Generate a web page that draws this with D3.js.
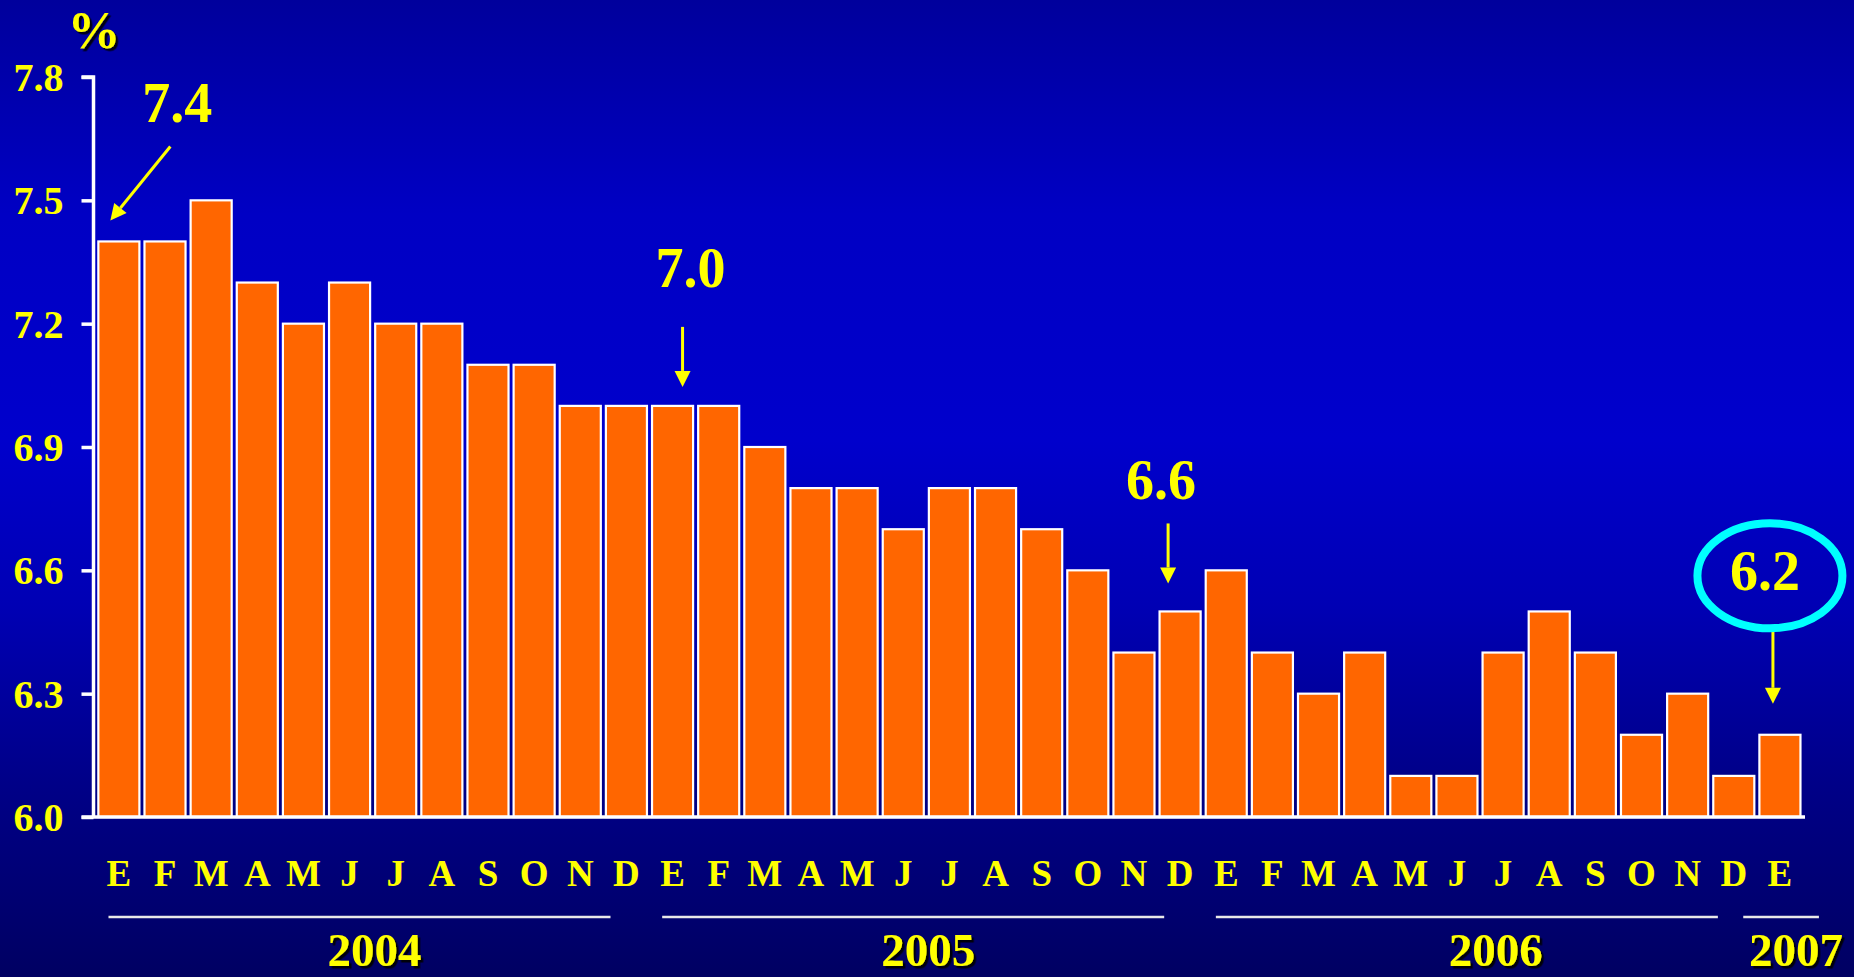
<!DOCTYPE html>
<html>
<head>
<meta charset="utf-8">
<script src="https://cdn.jsdelivr.net/npm/d3@7"></script>
<style>
  html, body { margin: 0; padding: 0; background: #00007a; overflow: hidden; }
  svg { display: block; }
  text { font-family: "Liberation Serif", "Times New Roman", serif; font-weight: bold; }
</style>
</head>
<body>
<svg id="chart" width="1854" height="977"></svg>
<script>
// ---- data ----
const months = ["E","F","M","A","M","J","J","A","S","O","N","D",
                "E","F","M","A","M","J","J","A","S","O","N","D",
                "E","F","M","A","M","J","J","A","S","O","N","D",
                "E"];
const values = [7.4, 7.4, 7.5, 7.3, 7.2, 7.3, 7.2, 7.2, 7.1, 7.1, 7.0, 7.0,
                7.0, 7.0, 6.9, 6.8, 6.8, 6.7, 6.8, 6.8, 6.7, 6.6, 6.4, 6.5,
                6.6, 6.4, 6.3, 6.4, 6.1, 6.1, 6.4, 6.5, 6.4, 6.2, 6.3, 6.1,
                6.2];
const yTicks = [6.0, 6.3, 6.6, 6.9, 7.2, 7.5, 7.8];
const yearLabels = ["2004", "2005", "2006", "2007"];
const yearFirst = [0, 12, 24, 36];
const yearLast = [11, 23, 35, 36];
const noteLabels = ["7.4", "7.0", "6.6", "6.2"];
const noteIndex = [0, 12, 23, 36];

// ---- layout ----
const W = 1854, H = 977;
const svg = d3.select("#chart");
const defs = svg.append("defs");
const grad = defs.append("linearGradient").attr("id", "bg")
  .attr("x1", 0).attr("y1", 0).attr("x2", 0).attr("y2", 1);
[[0, "#00009c"], [0.22, "#0000c4"], [0.45, "#0000cc"], [0.62, "#0000b4"], [0.8, "#000088"], [1, "#000062"]]
  .forEach(([o, c]) => grad.append("stop").attr("offset", o).attr("stop-color", c));
const shadow = defs.append("filter").attr("id", "shadow")
  .attr("x", "-20%").attr("y", "-20%").attr("width", "140%").attr("height", "140%");
shadow.append("feDropShadow").attr("dx", 2.5).attr("dy", 2.5).attr("stdDeviation", 0.6)
  .attr("flood-color", "#000000").attr("flood-opacity", 0.9);

svg.append("rect").attr("width", W).attr("height", H).attr("fill", "url(#bg)");

const axisX = 93.5;
const x = d3.scaleBand().domain(d3.range(values.length))
  .range([95.8, 1803]).paddingInner(0.11).paddingOuter(0.055);
const y = d3.scaleLinear().domain([6.0, 7.8]).range([817, 77]);
const step = x.step(), bw = x.bandwidth();

const YELLOW = "#ffff00";

// bars
svg.append("g").selectAll("rect").data(values).join("rect")
  .attr("x", (d, i) => x(i))
  .attr("y", d => y(d))
  .attr("width", bw)
  .attr("height", d => y(6.0) - y(d))
  .attr("fill", "#ff6600")
  .attr("stroke", "#ffffff")
  .attr("stroke-width", 2.2);

// y axis
const yAxis = d3.axisLeft(y).tickValues(yTicks).tickFormat(d3.format(".1f"))
  .tickSize(12).tickPadding(18);
const gy = svg.append("g").attr("transform", `translate(${axisX},0)`).call(yAxis);
gy.select(".domain").attr("stroke", "#ffffff").attr("stroke-width", 3.5)
  .attr("d", `M-12,${y(7.8)}H0V${y(6.0)}`);
gy.selectAll(".tick line").attr("stroke", "#ffffff").attr("stroke-width", 3.5);
gy.selectAll(".tick text").attr("fill", YELLOW).attr("font-size", 40)
  .attr("font-family", "Liberation Serif").attr("font-weight", "bold")
  .attr("dy", "0.34em");

// baseline
svg.append("line").attr("x1", axisX - 12).attr("x2", x.range()[1] + 2)
  .attr("y1", y(6.0)).attr("y2", y(6.0))
  .attr("stroke", "#ffffff").attr("stroke-width", 3.5);

// month labels
svg.append("g").selectAll("text").data(months).join("text")
  .attr("x", (d, i) => x(i) + bw / 2)
  .attr("y", 886)
  .attr("text-anchor", "middle")
  .attr("font-size", 37)
  .attr("fill", YELLOW)
  .text(d => d);

// year lines & labels
yearLabels.forEach((lab, k) => {
  let x1, x2;
  if (yearFirst[k] === yearLast[k]) {
    x1 = x(yearFirst[k]) - 0.35 * step;
    x2 = x(yearLast[k]) + bw + 0.4 * step;
  } else {
    x1 = x(yearFirst[k]) + 0.22 * step;
    x2 = x(yearLast[k]) + 0.1 * step;
  }
  svg.append("line").attr("x1", x1).attr("x2", x2).attr("y1", 917).attr("y2", 917)
    .attr("stroke", "#e8e8e8").attr("stroke-width", 2.5);
  svg.append("text").attr("x", (x1 + x2) / 2 + (k === 2 ? 29 : 15)).attr("y", 966)
    .attr("text-anchor", "middle").attr("font-size", 47).attr("fill", YELLOW)
    .attr("filter", "url(#shadow)").text(lab);
});

// percent sign
svg.append("text").attr("x", 94).attr("y", 48).attr("text-anchor", "middle")
  .attr("font-size", 53).attr("fill", YELLOW).attr("filter", "url(#shadow)").text("%");

// annotations
function arrow(x1, y1, x2, y2) {
  const ang = Math.atan2(y2 - y1, x2 - x1);
  const L = 16, Wd = 8;
  const bx = x2 - L * Math.cos(ang), by = y2 - L * Math.sin(ang);
  svg.append("line").attr("x1", x1).attr("y1", y1).attr("x2", bx).attr("y2", by)
    .attr("stroke", YELLOW).attr("stroke-width", 3);
  const px = -Math.sin(ang) * Wd, py = Math.cos(ang) * Wd;
  svg.append("path")
    .attr("d", `M${x2},${y2}L${bx + px},${by + py}L${bx - px},${by - py}Z`)
    .attr("fill", YELLOW);
}
const noteFont = 56;
// 7.4
{
  const i = noteIndex[0];
  const tx = x(i) + 12, ty = y(values[i]) - 21;
  arrow(tx + 60, ty - 74, tx, ty);
  svg.append("text").attr("x", tx + 67).attr("y", ty - 98).attr("text-anchor", "middle")
    .attr("font-size", noteFont).attr("fill", YELLOW).text(noteLabels[0]);
}
// 7.0
{
  const i = noteIndex[1];
  const ax = x(i) + bw / 2 + 10, ty = y(values[i]) - 19;
  arrow(ax, ty - 60, ax, ty);
  svg.append("text").attr("x", ax + 8).attr("y", ty - 100).attr("text-anchor", "middle")
    .attr("font-size", noteFont).attr("fill", YELLOW).text(noteLabels[1]);
}
// 6.6
{
  const i = noteIndex[2];
  const ax = x(i) + bw / 2 - 12, ty = y(values[i]) - 28;
  arrow(ax, ty - 60, ax, ty);
  svg.append("text").attr("x", ax - 7).attr("y", ty - 84).attr("text-anchor", "middle")
    .attr("font-size", noteFont).attr("fill", YELLOW).text(noteLabels[2]);
}
// 6.2 with circle
{
  const i = noteIndex[3];
  const ax = x(i) + bw / 2 - 7, ty = y(values[i]) - 31;
  arrow(ax, ty - 74, ax, ty);
  svg.append("ellipse").attr("cx", ax - 3).attr("cy", ty - 128).attr("rx", 72.5).attr("ry", 52.5)
    .attr("fill", "none").attr("stroke", "#00ffff").attr("stroke-width", 8);
  svg.append("text").attr("x", ax - 8).attr("y", ty - 114).attr("text-anchor", "middle")
    .attr("font-size", noteFont).attr("fill", YELLOW).text(noteLabels[3]);
}
</script>
</body>
</html>
